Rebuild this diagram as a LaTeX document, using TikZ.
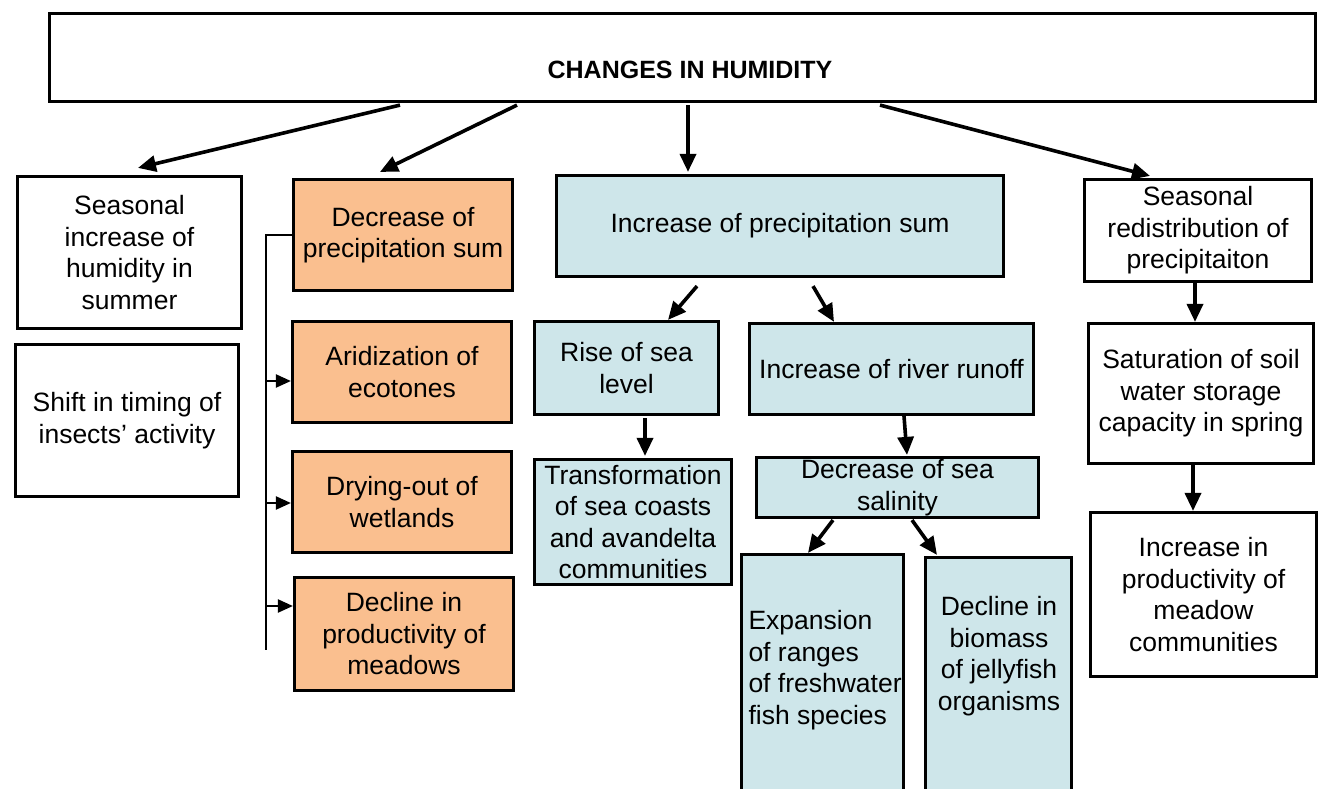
\documentclass[tikz,border=0pt]{standalone}
\usepackage{fontspec}
\setmainfont{Liberation Sans}
\usetikzlibrary{arrows.meta,calc}

\newcommand{\bodyfont}{\fontsize{26.5}{31.5}\selectfont}
\newcommand{\headfont}{\fontsize{25}{30}\selectfont\bfseries}

\tikzset{every picture/.style={line width=3pt}}
\tikzset{
  box/.style={draw, rectangle, line width=3.2pt, inner sep=0pt, align=center, font=\bodyfont},
  dryfill/.style={fill={rgb, 255:red, 250; green, 191; blue, 143}},
  wetfill/.style={fill={rgb, 255:red, 206; green, 230; blue, 234}},
  txt/.style={inner sep=0pt, font=\bodyfont},
  arr/.style={line width=3.6pt,-{Triangle[length=18pt,width=16pt]}},
  brace/.style={line width=2.2pt},
  bracearr/.style={line width=2.2pt,-{Triangle[length=15pt,width=13pt]}}
}

\begin{document}
\begin{tikzpicture}[x=1pt,y=1pt,yscale=-1,xscale=1]
\useasboundingbox (0,0) rectangle (1343,789);
\clip (0,0) rectangle (1343,789);

% title
\node[box, minimum width=1266, minimum height=88] (top) at (682.5,57.5) {};
\node[txt, font=\headfont] (toptxt) at (690,70) {CHANGES IN HUMIDITY};

% left column
\node[box, minimum width=224, minimum height=152] (seas) at (129.5,252.5) {Seasonal\\increase of\\humidity in\\summer};
\node[box, minimum width=223, minimum height=152] (shift) at (127,420.5) {Shift in timing of\\insects' activity};

% drying branch
\node[box, dryfill, minimum width=219, minimum height=111] (dec) at (403,235) {Decrease of\\precipitation sum};
\node[box, dryfill, minimum width=219, minimum height=101] (arid) at (402,372) {Aridization of\\ecotones};
\node[box, dryfill, minimum width=219, minimum height=101] (dry) at (402,502) {Drying-out of\\wetlands};
\node[box, dryfill, minimum width=219, minimum height=113] (decl) at (404,634) {Decline in\\productivity of\\meadows};

% wetting branch
\node[box, wetfill, minimum width=447, minimum height=101] (inc) at (780,226) {Increase of precipitation sum};
\node[box, wetfill, minimum width=184, minimum height=93] (rise) at (626.5,368) {Rise of sea\\level};
\node[box, wetfill, minimum width=284, minimum height=91] (river) at (891.5,369) {Increase of river runoff};
\node[box, wetfill, minimum width=197, minimum height=125] (trans) at (633,522) {Transformation\\of sea coasts\\and avandelta\\communities};
\node[box, wetfill, minimum width=282, minimum height=60] (sal) at (897.5,487.5) {Decrease of sea\\salinity};
\node[box, wetfill, minimum width=162, minimum height=254] (exp) at (822.5,681.5) {};
\node[txt, align=left, anchor=west] (exptxt) at (747,670) {Expansion\\of ranges\\of freshwater\\fish species};
\node[box, wetfill, minimum width=146, minimum height=251] (bio) at (998.5,683) {};
\node[txt, align=center] (biotxt) at (999,656) {Decline in\\biomass\\of jellyfish\\organisms};

% seasonal branch
\node[box, minimum width=227, minimum height=102] (sred) at (1198,230.5) {Seasonal\\redistribution of\\precipitaiton};
\node[box, minimum width=225, minimum height=140] (sat) at (1201,393.5) {Saturation of soil\\water storage\\capacity in spring};
\node[box, minimum width=226, minimum height=164] (incp) at (1203.5,594.5) {Increase in\\productivity of\\meadow\\communities};

% arrows from title
\draw[arr] ($(top.south)+(-282.5,2)$) -- ($(seas.north)+(8.5,-7)$);
\draw[arr] ($(top.south)+(-165.5,2)$) -- ($(dec.north)+(-23,-6)$);
\draw[arr] ($(top.south)+(5.5,2)$) -- ($(inc.north)+(-92,-2)$);
\draw[arr] ($(top.south)+(197.5,2)$) -- ($(sred.north)+(-48,-2)$);

% bracket
\coordinate (spine) at (266,231);
\coordinate (spineend) at (266,650);
\draw[brace] (dec.west) -- (dec.west -| spine) -- (spineend);
\draw[bracearr] ($(arid.west -| spine)+(0,9)$) -- ($(arid.west)+(0,9)$);
\draw[bracearr] ($(dry.west -| spine)+(0,1)$) -- ($(dry.west)+(0,1)$);
\draw[bracearr] ($(decl.west -| spine)+(0,-28)$) -- ($(decl.west)+(0,-28)$);

% middle arrows
\draw[arr] ($(inc.south)+(-83,8)$) -- ($(rise.north)+(41.5,0)$);
\draw[arr] ($(inc.south)+(33,8)$) -- ($(river.north)+(-57.5,0)$);
\draw[arr] ($(rise.south)+(18.5,2)$) -- ($(trans.north)+(12,-2)$);
\draw[arr] ($(river.south)+(12.5,0)$) -- ($(sal.north)+(9.5,-1)$);
\draw[arr] ($(sal.south)+(-64.5,1)$) -- ($(exp.north)+(-14.5,0)$);
\draw[arr] ($(sal.south)+(14.5,1)$) -- ($(bio.north)+(-61.5,-1)$);

% right arrows
\draw[arr] ($(sred.south)+(-3,0)$) -- ($(sat.north)+(-6,0)$);
\draw[arr] ($(sat.south)+(-8,0)$) -- ($(incp.north)+(-10.5,0)$);

\end{tikzpicture}
\end{document}
